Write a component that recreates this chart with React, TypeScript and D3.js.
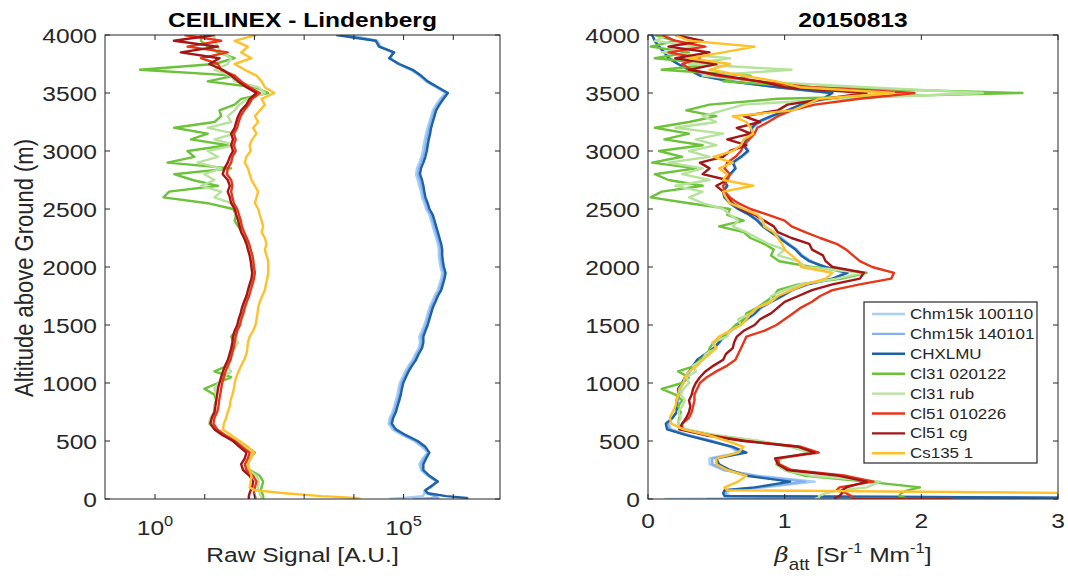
import React from "react";
import * as d3 from "d3";

// altitude grid shared by all profiles (m above ground)
const ALT = [
  0, 10, 25, 50, 75, 100, 150, 200, 250, 300, 350, 400, 450, 500, 550, 600, 650, 700, 750, 800,
  850, 900, 950, 1000, 1050, 1100, 1150, 1200, 1250, 1300, 1350, 1400, 1450, 1500, 1550, 1600,
  1650, 1700, 1750, 1800, 1850, 1900, 1950, 2000, 2050, 2100, 2150, 2200, 2250, 2300, 2350, 2400,
  2450, 2500, 2550, 2600, 2650, 2700, 2750, 2800, 2850, 2900, 2950, 3000, 3050, 3100, 3150, 3200,
  3250, 3300, 3350, 3400, 3450, 3500, 3550, 3600, 3650, 3700, 3750, 3800, 3850, 3900, 3950, 4000,
];

const NAMES = ["Chm15k 100110", "Chm15k 140101", "CHXLMU", "Cl31 020122", "Cl31 rub", "Cl51 010226", "Cl51 cg", "Cs135 1"];
const COLORS = ["#a8d0f4", "#86b0f2", "#1d62a6", "#6cc23a", "#b6e29c", "#e8361a", "#a31616", "#ffc12b"];

// raw signal [A.U.]
const RAW_CHM15K_100110 = [
  5.1e4, 9.55e4, 2.43e5, 2.62e5, 2.62e5, 3.58e5, 4.52e5, 3.06e5, 2.24e5, 2.07e5,
  2.43e5, 3.06e5, 2.35e5, 1.64e5, 9.55e4, 6.0e4, 4.97e4, 5.28e4, 6.0e4, 6.47e4,
  7.0e4, 7.55e4, 7.9e4, 8.4e4, 9.55e4, 1.08e5, 1.26e5, 1.52e5, 1.72e5, 2.01e5,
  2.14e5, 2.07e5, 2.35e5, 2.62e5, 2.84e5, 3.06e5, 3.31e5, 3.75e5, 4.19e5, 4.89e5,
  5.28e5, 5.71e5, 5.98e5, 5.53e5, 5.28e5, 5.12e5, 5.12e5, 4.89e5, 4.52e5, 4.19e5,
  3.87e5, 3.58e5, 3.31e5, 2.84e5, 2.62e5, 2.35e5, 2.24e5, 2.07e5, 1.92e5, 1.78e5,
  1.86e5, 2.07e5, 2.28e5, 2.43e5, 2.54e5, 2.67e5, 2.84e5, 3.02e5, 3.31e5, 3.58e5,
  3.87e5, 4.52e5, 5.45e5, 7.0e5, 4.52e5, 2.84e5, 2.07e5, 1.41e5, 7.55e4, 5.53e4,
  6.0e4, 3.47e4, 2.97e4, 7.9e3,
];
const RAW_CHM15K_140101 = [
  1.5e5, 5e5, 4.2e5, 2.8e5, 2.7e5, 3.4e5, 4.7e5, 3.2e5, 2.35e5, 2.28e5,
  2.6e5, 3.2e5, 2.55e5, 1.78e5, 1.03e5, 6.5e4, 5.4e4, 5.7e4, 6.5e4, 7.0e4,
  7.6e4, 8.2e4, 8.6e4, 9.1e4, 1.03e5, 1.17e5, 1.37e5, 1.65e5, 1.86e5, 2.18e5,
  2.32e5, 2.28e5, 2.55e5, 2.84e5, 3.07e5, 3.32e5, 3.58e5, 4.05e5, 4.54e5, 5.3e5,
  5.7e5, 6.2e5, 6.5e5, 6.0e5, 5.7e5, 5.55e5, 5.55e5, 5.3e5, 4.9e5, 4.54e5,
  4.2e5, 3.87e5, 3.58e5, 3.07e5, 2.84e5, 2.55e5, 2.43e5, 2.28e5, 2.12e5, 1.95e5,
  2.05e5, 2.28e5, 2.5e5, 2.67e5, 2.8e5, 2.93e5, 3.12e5, 3.3e5, 3.58e5, 3.87e5,
  4.2e5, 4.9e5, 5.9e5, 7.4e5, 4.7e5, 2.95e5, 2.15e5, 1.46e5, 7.9e4, 5.3e4,
  6.2e4, 3.3e4, 2.85e4, 6.0e3,
];
const RAW_CHXLMU = [
  1.98e6, 1.84e6, 7.2e5, 3.1e5, 2.75e5, 3.3e5, 4.9e5, 3.3e5, 2.5e5, 2.5e5,
  2.84e5, 3.3e5, 2.75e5, 1.92e5, 1.11e5, 7.0e4, 5.8e4, 6.2e4, 7.0e4, 7.55e4,
  8.2e4, 8.8e4, 9.25e4, 9.85e4, 1.11e5, 1.26e5, 1.48e5, 1.78e5, 2.01e5, 2.35e5,
  2.5e5, 2.5e5, 2.75e5, 3.06e5, 3.31e5, 3.58e5, 3.87e5, 4.38e5, 4.89e5, 5.71e5,
  6.18e5, 6.67e5, 7.0e5, 6.47e5, 6.18e5, 5.98e5, 5.98e5, 5.71e5, 5.28e5, 4.89e5,
  4.52e5, 4.19e5, 3.87e5, 3.31e5, 3.06e5, 2.75e5, 2.62e5, 2.5e5, 2.35e5, 2.14e5,
  2.24e5, 2.5e5, 2.75e5, 2.93e5, 3.06e5, 3.21e5, 3.42e5, 3.58e5, 3.87e5, 4.19e5,
  4.52e5, 5.28e5, 6.37e5, 7.8e5, 4.89e5, 3.06e5, 2.24e5, 1.52e5, 8.2e4, 5.12e4,
  6.47e4, 3.21e4, 2.75e4, 4.45e3,
];
const RAW_CL31_020122 = [
  150, 150, 150, 143, 134, 139, 150, 128, 80, 69,
  80, 102, 69, 43, 25, 17, 12.4, 13.4, 15.7, 15.7,
  17, 15.7, 9.8, 18.4, 34, 15.7, 29, 32, 34, 37,
  40, 34, 43, 48, 51, 56, 59, 64, 72, 77,
  84, 90, 94, 90, 87, 84, 78, 72, 64, 56,
  47, 40, 43, 37, 11.5, 1.48, 1.92, 18.4, 5.7, 2.43,
  34, 1.78, 6.2, 4.5, 29, 5.3, 11.5, 2.43, 15.7, 21.4,
  19.8, 40, 54, 189, 102, 11.5, 40, 0.5, 15.7, 40,
  18.4, 11.5, 8.4, 8.4,
];
const RAW_CL31_RUB = [
  139, 139, 134, 128, 119, 119, 122, 110, 77, 66,
  77, 94, 66, 42, 24.3, 16.2, 12.2, 13, 15.2, 15.7,
  17, 17, 15.7, 18.9, 23.2, 34, 28, 32, 34, 40,
  47, 37, 43, 48, 51, 56, 60, 66, 74, 80,
  87, 94, 102, 94, 90, 84, 80, 74, 69, 59,
  50, 54, 40, 43, 34, 15.7, 21.4, 8.4, 15.7, 9.8,
  21.4, 7.2, 18.4, 11.5, 40, 15.7, 40, 11.5, 34, 29,
  40, 50, 74, 162, 119, 40, 34, 15.7, 29, 34,
  21.4, 18.4, 15.7, 15.7,
];
const RAW_CL51_010226 = [
  105, 105, 102, 98, 98, 102, 110, 94, 69, 64,
  74, 80, 56, 40, 26, 17.8, 15, 15.7, 17.8, 18.9,
  19.5, 20.5, 21.4, 22.4, 24.3, 26.2, 29.3, 33.1, 35.3, 38.1,
  40, 41.9, 45.2, 51.2, 54.5, 59.8, 64, 70, 78, 84,
  91, 98, 102, 98, 95, 91, 84, 78, 70, 62,
  56, 53, 49, 45, 38.5, 36, 34, 36, 34, 28,
  29, 34, 36, 42, 38.5, 42, 38.5, 45, 48, 53,
  62, 77, 90, 128, 80, 54, 40, 21.4, 18.4, 8.4,
  29, 4.5, 21.4, 3.9,
];
const RAW_CL51_CG = [
  77, 77, 77, 80, 84, 90, 94, 80, 59, 54,
  64, 69, 50, 37, 23, 15.7, 13, 13.9, 15.7, 16.4,
  17, 17.8, 18.4, 19.8, 21.4, 23.2, 25.8, 29.3, 31.6, 34.2,
  35.8, 37, 40, 45.2, 48.1, 52.8, 56.2, 61.7, 69, 74,
  80, 87, 90, 87, 84, 80, 74, 69, 62, 54,
  50, 47, 43, 40, 34, 32, 29, 32, 29, 23,
  25, 29, 32, 37, 34, 37, 34, 40, 43, 47,
  54, 69, 80, 110, 69, 47, 34, 23, 12.4, 19.8,
  3.3, 18.4, 2.4, 15.7,
];
const RAW_CS135_1 = [
  13600, 10800, 2280, 412, 102, 80, 84, 87, 80, 74,
  84, 98, 74, 50, 34, 23.2, 24.3, 27, 29, 32,
  33, 36, 38.5, 40, 43, 48, 54, 62, 69, 72,
  74, 80, 94, 105, 110, 115, 119, 128, 143, 162,
  170, 181, 189, 189, 189, 175, 162, 175, 162, 139,
  150, 139, 128, 119, 102, 110, 119, 102, 87, 80,
  74, 64, 69, 84, 80, 90, 110, 94, 119, 102,
  128, 162, 139, 250, 162, 139, 110, 64, 40, 87,
  54, 74, 40, 110,
];

// attenuated backscatter [Sr-1 Mm-1]
const BETA_CHM15K_100110 = [
  0.12, 1.25, 0.6, 0.57, 0.6, 0.85, 1.22, 0.8, 0.55, 0.45,
  0.45, 0.66, 0.6, 0.47, 0.3, 0.17, 0.15, 0.18, 0.21, 0.22,
  0.22, 0.23, 0.24, 0.26, 0.28, 0.31, 0.34, 0.37, 0.43, 0.49,
  0.53, 0.56, 0.61, 0.67, 0.73, 0.79, 0.83, 0.91, 0.99, 1.06,
  1.18, 1.36, 1.44, 1.27, 1.2, 1.13, 1.09, 1.03, 0.98, 0.92,
  0.86, 0.81, 0.75, 0.67, 0.61, 0.57, 0.56, 0.58, 0.56, 0.61,
  0.64, 0.63, 0.69, 0.74, 0.71, 0.73, 0.76, 0.77, 0.82, 0.92,
  1.03, 1.13, 1.3, 1.33, 0.96, 0.62, 0.4, 0.3, 0.22, 0.16,
  0.12, 0.08, 0.05, 0.03,
];
const BETA_CHM15K_140101 = [
  0.43, 3.3, 0.58, 0.56, 0.58, 0.82, 1.15, 0.78, 0.56, 0.47,
  0.47, 0.68, 0.61, 0.46, 0.29, 0.16, 0.14, 0.18, 0.21, 0.21,
  0.22, 0.22, 0.23, 0.25, 0.28, 0.3, 0.33, 0.37, 0.42, 0.48,
  0.52, 0.55, 0.6, 0.66, 0.72, 0.78, 0.83, 0.9, 0.98, 1.05,
  1.17, 1.35, 1.45, 1.28, 1.19, 1.12, 1.08, 1.02, 0.97, 0.91,
  0.85, 0.8, 0.74, 0.66, 0.6, 0.56, 0.55, 0.58, 0.55, 0.6,
  0.64, 0.62, 0.68, 0.73, 0.7, 0.72, 0.75, 0.76, 0.81, 0.91,
  1.02, 1.12, 1.29, 1.34, 0.95, 0.61, 0.39, 0.3, 0.22, 0.15,
  0.12, 0.08, 0.05, 0.03,
];
const BETA_CHXLMU = [
  3.3, 3.3, 0.56, 0.55, 0.56, 0.78, 1.04, 0.72, 0.6, 0.52,
  0.5, 0.72, 0.62, 0.45, 0.28, 0.14, 0.13, 0.18, 0.21, 0.21,
  0.21, 0.22, 0.22, 0.25, 0.27, 0.3, 0.33, 0.36, 0.42, 0.48,
  0.52, 0.55, 0.6, 0.66, 0.72, 0.78, 0.82, 0.9, 0.98, 1.05,
  1.16, 1.35, 1.46, 1.3, 1.18, 1.12, 1.08, 1.02, 0.96, 0.9,
  0.84, 0.8, 0.74, 0.66, 0.6, 0.56, 0.55, 0.58, 0.55, 0.6,
  0.64, 0.62, 0.68, 0.73, 0.7, 0.72, 0.75, 0.76, 0.8, 0.9,
  1.02, 1.12, 1.28, 1.35, 0.95, 0.6, 0.38, 0.3, 0.22, 0.15,
  0.12, 0.08, 0.05, 0.03,
];
const BETA_CL31_020122 = [
  1.9, 1.88, 1.84, 1.85, 1.9, 1.99, 1.6, 1.15, 1.0, 0.94,
  0.97, 1.2, 1.05, 0.8, 0.48, 0.27, 0.22, 0.23, 0.24, 0.22,
  0.25, 0.2, 0.1, 0.25, 0.3, 0.22, 0.35, 0.38, 0.44, 0.45,
  0.48, 0.56, 0.6, 0.64, 0.7, 0.72, 0.8, 0.86, 0.92, 0.95,
  1.1, 1.42, 1.6, 1.2, 0.96, 0.9, 0.92, 0.85, 0.75, 0.7,
  0.52, 0.7, 0.58, 0.6, 0.3, 0.02, 0.1, 0.4, 0.15, 0.05,
  0.35, 0.03, 0.25, 0.08, 0.4, 0.12, 0.3, 0.05, 0.3, 0.5,
  0.28, 0.45, 0.95, 2.74, 1.2, 0.55, 0.75, 0.1, 0.5, 0.05,
  0.3, 0.02, 0.2, 0.05,
];
const BETA_CL31_RUB = [
  1.22, 1.25, 1.25, 1.3, 1.4, 1.6, 1.7, 1.2, 1.0, 0.95,
  0.98, 1.18, 1.05, 0.82, 0.5, 0.28, 0.22, 0.24, 0.22, 0.25,
  0.27, 0.24, 0.26, 0.3, 0.28, 0.35, 0.33, 0.4, 0.42, 0.5,
  0.47, 0.58, 0.6, 0.68, 0.66, 0.76, 0.8, 0.9, 0.9, 1.0,
  1.12, 1.38, 1.58, 1.15, 1.1, 0.95, 1.0, 0.88, 0.8, 0.72,
  0.62, 0.66, 0.6, 0.55, 0.4, 0.3, 0.4, 0.2, 0.45, 0.25,
  0.4, 0.15, 0.45, 0.3, 0.5, 0.35, 0.55, 0.2, 0.5, 0.4,
  0.55, 0.7, 1.4, 2.45, 1.6, 0.8, 0.4, 1.05, 0.3, 0.6,
  0.1, 0.35, 0.05, 0.15,
];
const BETA_CL51_010226 = [
  2.23, 1.49, 1.49, 1.45, 1.38, 1.4, 1.65, 1.45, 1.05, 0.96,
  0.95, 1.25, 1.12, 0.72, 0.45, 0.25, 0.25, 0.3, 0.32, 0.33,
  0.34, 0.34, 0.36, 0.38, 0.43, 0.5, 0.58, 0.64, 0.66, 0.68,
  0.7, 0.72, 0.85, 0.94, 1.0, 1.06, 1.12, 1.2, 1.26, 1.35,
  1.55, 1.78, 1.8, 1.64, 1.55, 1.5, 1.45, 1.38, 1.26, 1.15,
  1.05, 1.0, 0.88, 0.75, 0.66, 0.6, 0.56, 0.55, 0.58, 0.6,
  0.56, 0.58, 0.64, 0.68, 0.7, 0.74, 0.78, 0.8, 0.88, 0.95,
  1.05, 1.22, 1.55, 1.95, 1.2, 0.8, 0.5, 0.32, 0.25, 0.38,
  0.15, 0.42, 0.2, 0.1,
];
const BETA_CL51_CG = [
  1.37, 1.37, 1.4, 1.42, 1.42, 1.45, 1.6, 1.4, 1.02, 0.95,
  0.93, 1.22, 1.1, 0.7, 0.42, 0.23, 0.25, 0.28, 0.3, 0.31,
  0.3, 0.32, 0.33, 0.35, 0.38, 0.42, 0.48, 0.55, 0.57, 0.62,
  0.63, 0.65, 0.7, 0.78, 0.82, 0.9, 0.95, 1.0, 1.1, 1.2,
  1.35, 1.55, 1.58, 1.35, 1.3, 1.28, 1.2, 1.18, 1.05, 0.95,
  0.92, 0.85, 0.78, 0.68, 0.62, 0.58, 0.55, 0.5, 0.58, 0.4,
  0.45, 0.38, 0.55, 0.6, 0.72, 0.58, 0.75, 0.65, 0.82, 0.7,
  0.95, 1.02, 1.3, 1.6, 1.0, 0.82, 0.55, 0.3, 0.5, 0.2,
  0.45, 0.15, 0.4, 0.2,
];
const BETA_CS135_1 = [
  3.3, 3.3, 3.3, 3.3, 0.58, 0.56, 0.66, 0.72, 0.58, 0.5,
  0.5, 0.66, 0.7, 0.58, 0.44, 0.26, 0.17, 0.16, 0.18, 0.2,
  0.21, 0.22, 0.23, 0.26, 0.27, 0.3, 0.36, 0.4, 0.45, 0.5,
  0.48, 0.52, 0.6, 0.68, 0.72, 0.75, 0.8, 0.9, 0.95, 1.05,
  1.15, 1.3, 1.35, 1.12, 1.1, 1.05, 1.0, 0.98, 0.95, 0.92,
  0.85, 0.84, 0.8, 0.7, 0.6, 0.57, 0.55, 0.77, 0.55, 0.58,
  0.52, 0.62, 0.48, 0.62, 0.68, 0.7, 0.77, 0.75, 0.72, 0.62,
  1.06, 1.16, 1.25, 1.8, 1.11, 0.94, 0.7, 0.45, 0.6, 0.3,
  0.55, 0.78, 0.3, 0.2,
];

const RAW = [RAW_CHM15K_100110, RAW_CHM15K_140101, RAW_CHXLMU, RAW_CL31_020122, RAW_CL31_RUB, RAW_CL51_010226, RAW_CL51_CG, RAW_CS135_1];
const BETA = [BETA_CHM15K_100110, BETA_CHM15K_140101, BETA_CHXLMU, BETA_CL31_020122, BETA_CL31_RUB, BETA_CL51_010226, BETA_CL51_CG, BETA_CS135_1];

const Y_TICKS = [0, 500, 1000, 1500, 2000, 2500, 3000, 3500, 4000];
const LOG_TICKS = [1, 10, 100, 1e3, 1e4, 1e5, 1e6];
const LOG_LABELS = [{ v: 1, exp: "0" }, { v: 1e5, exp: "5" }];
const BETA_TICKS = [0, 1, 2, 3];

const FONT = "'Liberation Sans', Arial, Helvetica, sans-serif";
const AX = "#262626";
const STRETCH = 1.17; // the figure is a bit wider than tall

export default function App() {
  const top = 35, bottom = 499;
  const L = { x0: 105, x1: 500 };
  const R = { x0: 648, x1: 1058 };

  const y = d3.scaleLinear().domain([0, 4000]).range([bottom, top]);
  const xL = d3.scaleLog().domain([0.0986, 8.7e6]).range([L.x0, L.x1]);
  const xR = d3.scaleLinear().domain([0, 3]).range([R.x0, R.x1]);

  const path = (xs: (v: number) => number, vals: number[]) =>
    d3.line<number>().x((v) => xs(v)).y((_, i) => y(ALT[i]))(vals) || "";

  const sText = (x: number, yy: number, anchor: string, size: number, content: React.ReactNode, weight = "normal", fill = AX) => (
    <g transform={`translate(${x},${yy}) scale(${STRETCH},1)`}>
      <text textAnchor={anchor} fontSize={size} fontWeight={weight} fill={fill}>{content}</text>
    </g>
  );

  const frame = (ax: { x0: number; x1: number }, xt: number[], xs: (v: number) => number) => (
    <g>
      <rect x={ax.x0} y={top} width={ax.x1 - ax.x0} height={bottom - top} fill="none" stroke={AX} strokeWidth={1} />
      {Y_TICKS.map((t) => (
        <g key={"y" + t}>
          <line x1={ax.x0} x2={ax.x0 + 5} y1={y(t)} y2={y(t)} stroke={AX} />
          <line x1={ax.x1} x2={ax.x1 - 5} y1={y(t)} y2={y(t)} stroke={AX} />
          {sText(ax.x0 - 8, y(t) + 8, "end", 21, String(t))}
        </g>
      ))}
      {xt.map((t) => (
        <g key={"x" + t}>
          <line x1={xs(t)} x2={xs(t)} y1={bottom} y2={bottom - 5} stroke={AX} />
          <line x1={xs(t)} x2={xs(t)} y1={top} y2={top + 5} stroke={AX} />
        </g>
      ))}
    </g>
  );

  return (
    <svg width={1068} height={579} style={{ position: "absolute", left: 0, top: 0, background: "#fff" }} fontFamily={FONT}>
      <defs>
        <clipPath id="clipL"><rect x={L.x0} y={top} width={L.x1 - L.x0} height={bottom - top} /></clipPath>
        <clipPath id="clipR"><rect x={R.x0} y={top} width={R.x1 - R.x0} height={bottom - top} /></clipPath>
      </defs>

      {/* left panel */}
      <g clipPath="url(#clipL)">
        {RAW.map((vals, i) => (
          <path key={i} d={path(xL, vals)} fill="none" stroke={COLORS[i]} strokeWidth={2.4} strokeLinejoin="round" />
        ))}
      </g>
      {frame(L, LOG_TICKS, xL)}
      {LOG_LABELS.map((d) => (
        <g key={d.exp}>
          {sText(xL(d.v), 535, "middle", 21, (
            <>10<tspan dy={-9} fontSize={14}>{d.exp}</tspan></>
          ))}
        </g>
      ))}
      {sText((L.x0 + L.x1) / 2, 27, "middle", 21, "CEILINEX - Lindenberg", "bold", "#000")}
      {sText((L.x0 + L.x1) / 2, 562, "middle", 21, "Raw Signal [A.U.]")}
      <g transform={`translate(33,268) rotate(-90) scale(1,${STRETCH})`}>
        <text textAnchor="middle" fontSize={22} fill={AX}>Altitude above Ground (m)</text>
      </g>

      {/* right panel */}
      <g clipPath="url(#clipR)">
        {BETA.map((vals, i) => (
          <path key={i} d={path(xR, vals)} fill="none" stroke={COLORS[i]} strokeWidth={2.4} strokeLinejoin="round" />
        ))}
      </g>
      {frame(R, BETA_TICKS, xR)}
      {BETA_TICKS.map((t) => (
        <g key={"bl" + t}>{sText(xR(t), 528, "middle", 21, String(t))}</g>
      ))}
      {sText((R.x0 + R.x1) / 2, 27, "middle", 21, "20150813", "bold", "#000")}
      {sText((R.x0 + R.x1) / 2, 562, "middle", 21, (
        <>
          <tspan fontStyle="italic" fontFamily="'DejaVu Serif', serif">β</tspan>
          <tspan dy={8} fontSize={16}>att</tspan>
          <tspan dy={-8}> [Sr</tspan>
          <tspan dy={-9} fontSize={14}>-1</tspan>
          <tspan dy={9}> Mm</tspan>
          <tspan dy={-9} fontSize={14}>-1</tspan>
          <tspan dy={9}>]</tspan>
        </>
      ))}

      {/* legend */}
      <rect x={864} y={302} width={173} height={161} fill="#fff" stroke={AX} strokeWidth={1.2} />
      {NAMES.map((n, i) => {
        const yy = 314 + i * 19.9;
        return (
          <g key={n}>
            <line x1={872} x2={905} y1={yy} y2={yy} stroke={COLORS[i]} strokeWidth={2.4} />
            {sText(910, yy + 5, "start", 14.5, n, "normal", "#262626")}
          </g>
        );
      })}
    </svg>
  );
}
